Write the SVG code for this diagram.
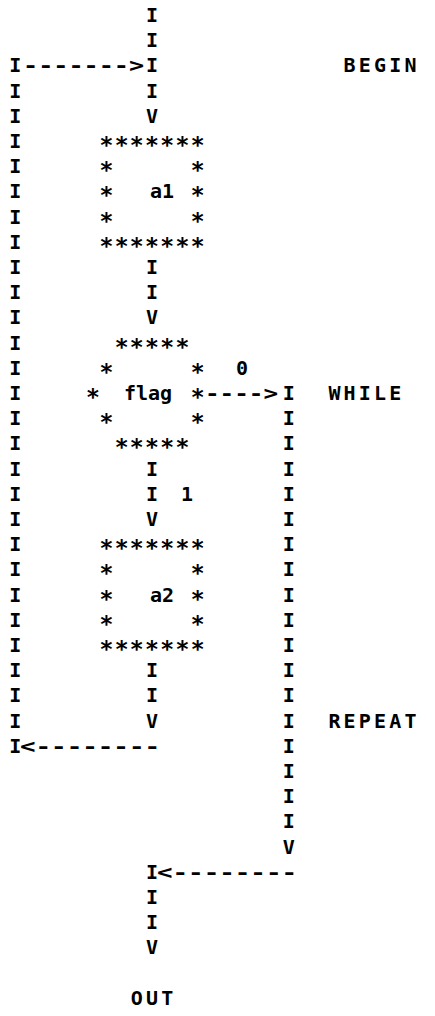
<svg xmlns="http://www.w3.org/2000/svg" width="435" height="1016" viewBox="0 0 435 1016">
<style>
text{font-family:"DejaVu Sans Mono","Liberation Mono",monospace;font-weight:bold;font-size:20px;fill:#000;text-anchor:middle}
.st{font-size:23px}
.d{text-anchor:start}
</style>
<rect width="435" height="1016" fill="#fff"/>
<g id="connectors">
<text x="15.2 15.2 15.2 15.2 15.2 15.2 15.2 15.2 15.2 15.2 15.2 15.2 15.2 15.2 15.2 15.2 15.2 15.2 15.2 15.2 15.2 15.2 15.2 15.2 15.2 15.2 15.2 15.2" y="72.4 97.6 122.8 148 173.2 198.4 223.6 248.8 274 299.2 324.4 349.6 374.8 400 425.2 450.4 475.6 500.8 526 551.2 576.4 601.6 626.8 652 677.2 702.4 727.6 752.8">IIIIIIIIIIIIIIIIIIIIIIIIIIII</text>
<text class="d" x="23" y="72.4" textLength="121" lengthAdjust="spacingAndGlyphs">-------&gt;</text>
<text x="152 152 152 152 152" y="22 47.2 72.4 97.6 122.8">IIIIV</text>
<text x="152 152 152" y="274 299.2 324.4">IIV</text>
<text class="d" x="205" y="400" textLength="73" lengthAdjust="spacingAndGlyphs">----&gt;</text>
<text x="288.8 288.8 288.8 288.8 288.8 288.8 288.8 288.8 288.8 288.8 288.8 288.8 288.8 288.8 288.8 288.8 288.8 288.8 288.8" y="400 425.2 450.4 475.6 500.8 526 551.2 576.4 601.6 626.8 652 677.2 702.4 727.6 752.8 778 803.2 828.4 853.6">IIIIIIIIIIIIIIIIIIV</text>
<text x="242" y="374.8">0</text>
<text x="152 152 152" y="475.6 500.8 526">IIV</text>
<text x="187" y="500.8">1</text>
<text x="152 152 152" y="677.2 702.4 727.6">IIV</text>
<text class="d" x="20" y="752.8" textLength="140" lengthAdjust="spacingAndGlyphs">&lt;--------</text>
<text x="152 152 152 152" y="878.8 904 929.2 954.4">IIIV</text>
<text class="d" x="157" y="878.8" textLength="140" lengthAdjust="spacingAndGlyphs">&lt;--------</text>
</g>
<g id="node-a1">
<g transform="translate(0,5)">
<text class="st" x="106.4 121.6 136.8 152 167.2 182.4 197.6" y="148">*******</text>
<text class="st" x="106.4" y="173.2">*</text><text class="st" x="197.6" y="173.2">*</text>
<text class="st" x="106.4" y="198.4">*</text><text class="st" x="197.6" y="198.4">*</text>
<text class="st" x="106.4" y="223.6">*</text><text class="st" x="197.6" y="223.6">*</text>
<text class="st" x="106.4 121.6 136.8 152 167.2 182.4 197.6" y="248.8">*******</text>
</g>
<text x="162" y="198.4">a1</text>
</g>
<g id="node-flag">
<g transform="translate(0,5)">
<text class="st" x="121.6 136.8 152 167.2 182.4" y="349.6">*****</text>
<text class="st" x="106.4" y="374.8">*</text><text class="st" x="197.6" y="374.8">*</text>
<text class="st" x="93" y="400">*</text><text class="st" x="197.6" y="400">*</text>
<text class="st" x="106.4" y="425.2">*</text><text class="st" x="197.6" y="425.2">*</text>
<text class="st" x="121.6 136.8 152 167.2 182.4" y="450.4">*****</text>
</g>
<text x="148" y="400">flag</text>
</g>
<g id="node-a2">
<g transform="translate(0,5)">
<text class="st" x="106.4 121.6 136.8 152 167.2 182.4 197.6" y="551.2">*******</text>
<text class="st" x="106.4" y="576.4">*</text><text class="st" x="197.6" y="576.4">*</text>
<text class="st" x="106.4" y="601.6">*</text><text class="st" x="197.6" y="601.6">*</text>
<text class="st" x="106.4" y="626.8">*</text><text class="st" x="197.6" y="626.8">*</text>
<text class="st" x="106.4 121.6 136.8 152 167.2 182.4 197.6" y="652">*******</text>
</g>
<text x="162" y="601.6">a2</text>
</g>
<g id="label-begin"><text x="349.6 364.8 380 395.2 410.4" y="72.4">BEGIN</text></g>
<g id="label-while"><text x="334.4 349.6 364.8 380 395.2" y="400">WHILE</text></g>
<g id="label-repeat"><text x="334.4 349.6 364.8 380 395.2 410.4" y="727.6">REPEAT</text></g>
<g id="label-out"><text x="136.8 152 167.2" y="1004.8">OUT</text></g>
</svg>
